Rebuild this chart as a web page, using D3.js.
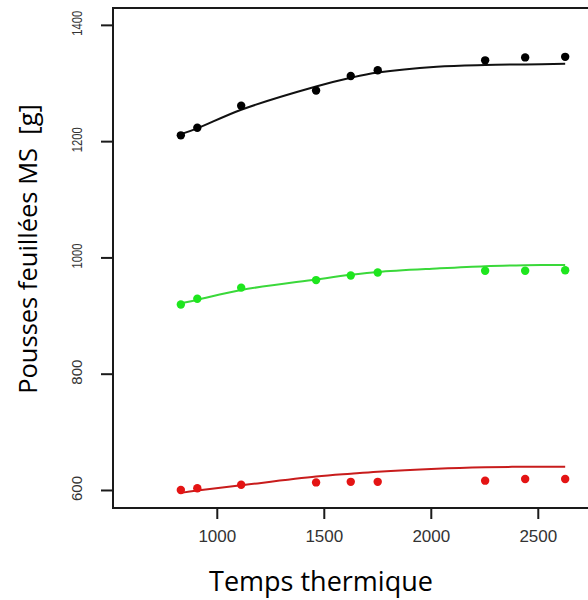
<!DOCTYPE html>
<html><head><meta charset="utf-8">
<script src="https://cdn.jsdelivr.net/npm/d3@7/dist/d3.min.js"></script>
<style>html,body{margin:0;padding:0;background:#fff;}</style>
</head><body>
<svg id="chart" width="588" height="600"></svg>
<script>
// Observed points
const obsX = [832, 909, 1114, 1464, 1626, 1752, 2254, 2441, 2628];
const blackY = [1210, 1223, 1261, 1287, 1312, 1322, 1339, 1344, 1345];
const greenY = [919, 929, 948, 961, 969, 974, 977, 977, 978];
const redY = [600, 603, 609, 613, 614, 614, 616, 619, 619];
// Fitted curves
const fitX = [832, 909, 1114, 1464, 1626, 1752, 2028, 2254, 2441, 2628];
const blackFit = [1212, 1222, 1254, 1294, 1309, 1318, 1328, 1331, 1332, 1333];
const greenFit = [921, 927, 944, 962, 970, 975, 981, 985, 986.5, 987];
const redFit = [595, 599, 608, 623, 628, 631.5, 636.5, 639, 640, 640];
const xTicks = [1000, 1500, 2000, 2500];
const yTicks = [600, 800, 1000, 1200, 1400];
const xTitle = "Temps thermique";
const yTitle = "Pousses feuillées MS  [g]";

const series = [
  {pts: blackY, fit: blackFit, dot: "#000000", line: "#111111"},
  {pts: greenY, fit: greenFit, dot: "#1ee61e", line: "#3ad83a"},
  {pts: redY, fit: redFit, dot: "#e41414", line: "#c81c1c"}
];

const svg = d3.select("#chart");
const L = 113, T = 8, R = 593, B = 508;
const x = d3.scaleLinear().domain([515, 2758]).range([L, R]);
const y = d3.scaleLinear().domain([569, 1429]).range([B, T]);

// frame
svg.append("rect").attr("x", L).attr("y", T).attr("width", R - L).attr("height", B - T)
  .attr("fill", "none").attr("stroke", "#1a1a1a").attr("stroke-width", 2);

// x axis
const xa = svg.append("g").attr("transform", `translate(0,${B})`)
  .call(d3.axisBottom(x).tickValues(xTicks).tickSize(11).tickSizeOuter(0).tickPadding(11).tickFormat(d3.format("d")));
xa.select(".domain").remove();
xa.selectAll("line").attr("stroke", "#1a1a1a").attr("stroke-width", 2);
xa.selectAll("text").attr("font-family", "Liberation Sans, Arial, sans-serif").attr("font-size", 17).attr("fill", "#333");

// y axis
const ya = svg.append("g").attr("transform", `translate(${L},0)`)
  .call(d3.axisLeft(y).tickValues(yTicks).tickSize(12).tickSizeOuter(0).tickFormat(d3.format("d")));
ya.select(".domain").remove();
ya.selectAll("line").attr("stroke", "#1a1a1a").attr("stroke-width", 2);
ya.selectAll("text").remove();
ya.selectAll(".tick").append("text")
  .attr("transform", "translate(-31,-2) rotate(-90)")
  .attr("text-anchor", "middle")
  .attr("font-family", "Liberation Sans, Arial, sans-serif")
  .attr("font-size", 15).attr("fill", "#333")
  .attr("textLength", 25).attr("lengthAdjust", "spacingAndGlyphs")
  .text(d => d3.format("d")(d));

const line = d3.line().curve(d3.curveCatmullRom.alpha(0.5)).x(d => x(d[0])).y(d => y(d[1]));
series.forEach(s => {
  svg.append("path").datum(fitX.map((v, i) => [v, s.fit[i]]))
    .attr("d", line).attr("fill", "none").attr("stroke", s.line).attr("stroke-width", 2);
  svg.append("g").selectAll("circle").data(obsX.map((v, i) => [v, s.pts[i]])).join("circle")
    .attr("cx", d => x(d[0])).attr("cy", d => y(d[1])).attr("r", 4.2).attr("fill", s.dot);
});

// titles
svg.append("text").attr("x", 321).attr("y", 591).attr("text-anchor", "middle")
  .attr("font-family", "Open Sans, Noto Sans, sans-serif").attr("font-size", 27).attr("fill", "#000")
  .text(xTitle);
svg.append("text").attr("transform", "translate(37,249) rotate(-90)").attr("text-anchor", "middle")
  .attr("font-family", "Open Sans, Noto Sans, sans-serif").attr("font-size", 25.5).attr("fill", "#000")
  .attr("xml:space", "preserve")
  .text(yTitle);
</script>
</body></html>
